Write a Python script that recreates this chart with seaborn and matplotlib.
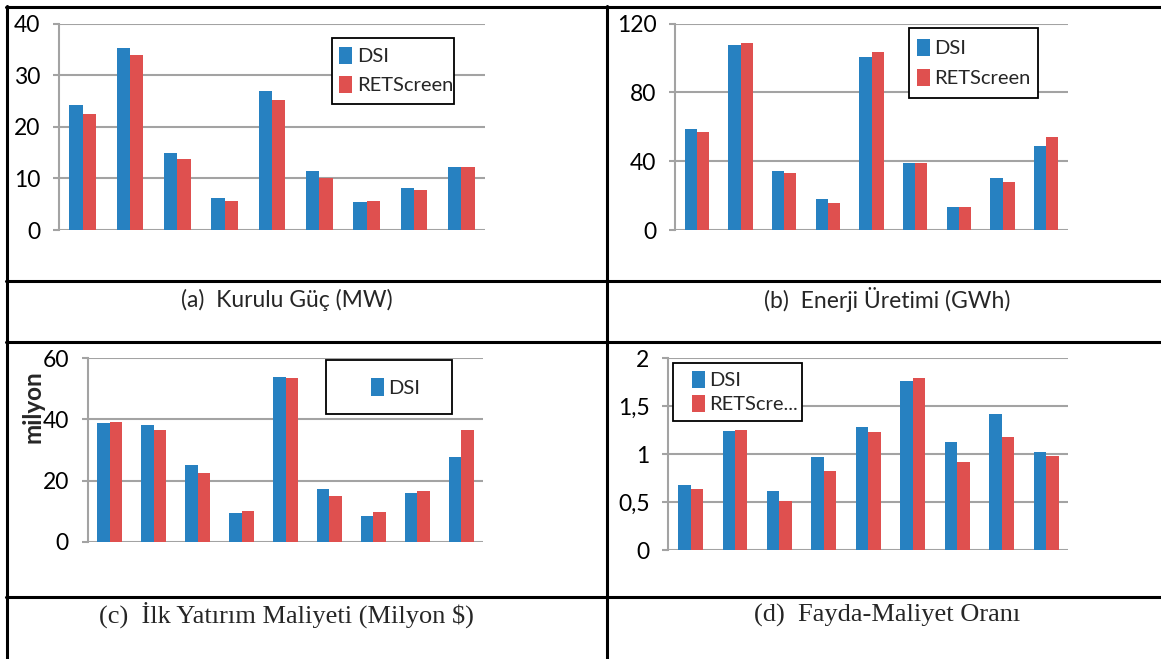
import numpy as np
import pandas as pd
import matplotlib
matplotlib.use("Agg")
import matplotlib.pyplot as plt
import seaborn as sns
from matplotlib.lines import Line2D
from matplotlib.patches import Rectangle
from matplotlib.ticker import FuncFormatter

# data (9 sites, DSI vs RETScreen)
sites = ["1", "2", "3", "4", "5", "6", "7", "8", "9"]
sources = ["DSI", "RETScreen"]

guc_dsi = [24.2, 35.3, 14.9, 6.3, 27.0, 11.4, 5.5, 8.2, 12.3]
guc_ret = [22.4, 33.9, 13.7, 5.6, 25.2, 10.0, 5.6, 7.8, 12.2]

enerji_dsi = [58.7, 107.6, 34.3, 18.0, 100.4, 38.8, 13.2, 30.2, 48.7]
enerji_ret = [57.0, 109.0, 33.0, 15.7, 103.3, 39.0, 13.4, 27.9, 54.1]

maliyet_dsi = [38.7, 38.1, 25.0, 9.3, 53.9, 17.1, 8.5, 16.0, 27.6]
maliyet_ret = [39.1, 36.5, 22.4, 10.0, 53.7, 15.1, 9.8, 16.6, 36.7]

oran_dsi = [0.68, 1.24, 0.62, 0.97, 1.28, 1.76, 1.13, 1.42, 1.02]
oran_ret = [0.64, 1.25, 0.51, 0.83, 1.23, 1.80, 0.92, 1.18, 0.98]

captions = ["(a)  Kurulu Güç (MW)", "(b)  Enerji Üretimi (GWh)",
            "(c)  İlk Yatırım Maliyeti (Milyon $)", "(d)  Fayda-Maliyet Oranı"]

BLUE = "#2781C1"
RED = "#DF504F"
GRID = "#A3A3A3"

sns.set_style("white")
plt.rcParams["font.family"] = ["Lato", "DejaVu Sans"]

W, H = 1161, 659
fig = plt.figure(figsize=(W / 100, H / 100), dpi=100)


def fx(x):
    return x / W


def fy(y):
    return 1 - y / H


def make_df(dsi, ret):
    return pd.DataFrame({
        "site": sites * 2,
        "source": [sources[0]] * len(sites) + [sources[1]] * len(sites),
        "value": dsi + ret,
    })


def panel(box, dsi, ret, ymax, step, comma=False):
    x0, y0, x1, y1 = box
    ax = fig.add_axes([fx(x0), fy(y1), fx(x1) - fx(x0), fy(y0) - fy(y1)])
    sns.barplot(data=make_df(dsi, ret), x="site", y="value", hue="source",
                palette=[BLUE, RED], saturation=1, width=0.56, linewidth=0,
                ax=ax, legend=False)
    ax.set_ylim(0, ymax)
    ax.set_yticks(np.arange(0, ymax + step / 2, step))
    if comma:
        ax.yaxis.set_major_formatter(FuncFormatter(
            lambda v, p: ("%g" % v).replace(".", ",")))
    ax.set_xlim(-0.5, len(sites) - 0.5)
    ax.set_xticks([])
    ax.set_xlabel("")
    ax.set_ylabel("")
    ax.grid(axis="y", color=GRID, linewidth=1.5)
    ax.set_axisbelow(True)
    for s in ["top", "right", "bottom"]:
        ax.spines[s].set_visible(False)
    ax.spines["left"].set_color(GRID)
    ax.spines["left"].set_linewidth(1.5)
    ax.tick_params(axis="y", length=4.5, width=1.5, color=GRID, pad=9,
                   labelsize=16.5, labelcolor="black", left=True)
    ax.patch.set_alpha(0)
    return ax


def legend_box(ax, rect, anchor, labels, spacing, n=2):
    x0, y0, x1, y1 = rect
    ax.add_patch(Rectangle((fx(x0), fy(y1)), fx(x1) - fx(x0), fy(y0) - fy(y1),
                           transform=fig.transFigure, facecolor="white",
                           edgecolor="black", linewidth=1.3, clip_on=False,
                           zorder=4))
    handles = [Rectangle((0, 0), 1, 1, facecolor=c, linewidth=0)
               for c in [BLUE, RED]][:n]
    ax.legend(handles, labels[:n], loc="center left",
              bbox_to_anchor=(fx(anchor[0]), fy(anchor[1])),
              bbox_transform=fig.transFigure, frameon=False,
              handlelength=0.64, handleheight=0.95, handletextpad=0.25,
              labelspacing=spacing, borderpad=0, borderaxespad=0,
              fontsize=14.5)


ax_a = panel((59, 23.7, 485, 230), guc_dsi, guc_ret, 40, 10)
legend_box(ax_a, (332, 38, 454, 104), (339, 70.5), sources, 0.5)

ax_b = panel((675, 23.7, 1068, 230), enerji_dsi, enerji_ret, 120, 40)
legend_box(ax_b, (909, 28, 1038, 98), (916.7, 63), sources, 0.55)

ax_c = panel((87.7, 358.3, 483.3, 541.7), maliyet_dsi, maliyet_ret, 60, 20)
legend_box(ax_c, (326, 360, 451.7, 414), (370.7, 387.7), sources, 0.5, n=1)
ax_c.set_ylabel("milyon", fontsize=17.5, fontweight="bold")
ax_c.yaxis.set_label_coords(-0.108, 0.736)

ax_d = panel((668.3, 358.3, 1068.3, 550.3), oran_dsi, oran_ret, 2, 0.5,
             comma=True)
legend_box(ax_d, (673.3, 363.3, 801.7, 420.7), (691.7, 392),
           ["DSI", "RETScre..."], 0.25)

# captions
fig.text(fx(287), fy(300), captions[0], ha="center", va="center",
         fontsize=16.5)
fig.text(fx(887), fy(300), captions[1], ha="center", va="center",
         fontsize=16.5)
fig.text(fx(286), fy(615), captions[2], ha="center", va="center",
         fontsize=19, family=["Liberation Serif", "DejaVu Serif"])
fig.text(fx(887), fy(615), captions[3], ha="center", va="center",
         fontsize=19, family=["Liberation Serif", "DejaVu Serif"])

# table rules
lw = 2.2
for y in [7, 281, 342, 597]:
    fig.add_artist(Line2D([fx(6), 1], [fy(y), fy(y)], color="black",
                          linewidth=lw))
for x in [7, 606.5]:
    fig.add_artist(Line2D([fx(x), fx(x)], [fy(6), 0], color="black",
                          linewidth=lw))

fig.savefig("out.png", dpi=100)
